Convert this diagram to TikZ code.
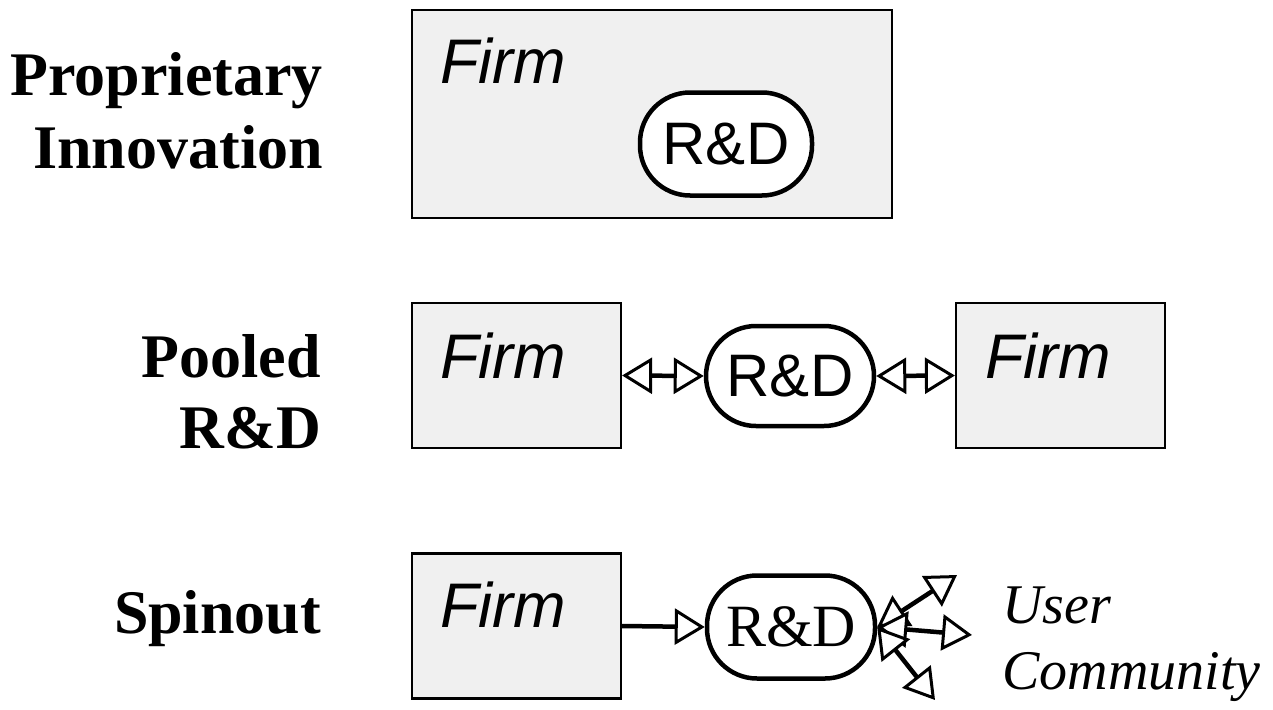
\documentclass[tikz,border=0pt]{standalone}
\usepackage{fontspec}
\setmainfont{Liberation Serif}
\setsansfont{Liberation Sans}
\usetikzlibrary{arrows.meta}
\tikzset{
  firmbox/.style={draw=black, line width=2.2pt, fill=gray!12, inner sep=0pt},
  rdbox/.style={draw=black, line width=4.5pt, fill=white, rounded corners=50pt, inner sep=0pt, minimum width=168pt, minimum height=100pt},
  label/.style={font=\fontsize{62}{71}\selectfont\bfseries, inner sep=0pt, anchor=base east},
  firmtext/.style={font=\sffamily\itshape\fontsize{63}{70}\selectfont, inner sep=0pt, anchor=base west},
  rdsans/.style={font=\sffamily\fontsize{60}{70}\selectfont},
  rdserif/.style={font=\fontsize{60}{70}\selectfont},
  usertext/.style={font=\itshape\fontsize{56}{66}\selectfont, inner sep=0pt, anchor=base west},
  tip/.tip={Triangle[open, length=30pt, width=36pt, fill=white, line width=3pt]},
  link/.style={line width=4.5pt, {tip}-{tip}},
  onelink/.style={line width=4.5pt, -{tip}}
}
\begin{document}
\begin{tikzpicture}[x=1pt,y=-1pt]
\useasboundingbox (0,0) rectangle (1273,709);
% labels
\node[label] (l1a) at (323,95) {Proprietary};
\node[label] (l1b) at (323,168) {Innovation};
\node[label] (l2a) at (321,377) {Pooled};
\node[label] (l2b) at (321,448) {R\&D};
\node[label] (l3) at (321,633) {Spinout};
% row 1
\node[firmbox, minimum width=480pt, minimum height=208pt] (b1) at (652,114) {};
\node[firmtext] (f1) at (440,83) {Firm};
\node[rdbox, rdsans, minimum width=172pt, minimum height=103pt] (r1) at (726,144) {R\&D};
% row 2
\node[firmbox, minimum width=209pt, minimum height=145pt] (b2) at (516.5,375.5) {};
\node[firmtext] (f2) at (440,378) {Firm};
\node[rdbox, rdsans] (r2) at (790,376) {R\&D};
\node[firmbox, minimum width=209pt, minimum height=145pt] (b3) at (1060.5,375.5) {};
\node[firmtext] (f3) at (985,378) {Firm};
\draw[link] (b2.east) -- (r2.west);
\draw[link] (r2.east) -- (b3.west);
% row 3
\node[firmbox, minimum width=209pt, minimum height=145pt] (b4) at (516.5,626) {};
\node[firmtext] (f4) at (440,627) {Firm};
\node[rdbox, rdserif, minimum height=103pt] (r3) at (791,627) {R\&D};
\draw[onelink] (b4.east) -- (r3.west);
\coordinate (u1) at (957,575);
\coordinate (u2) at (972,635);
\coordinate (u3) at (935,700);
\draw[link] (r3.east) -- (u1);
\draw[link] (r3.east) -- (u2);
\draw[link] (r3.east) -- (u3);
\node[usertext] (ut1) at (1002,623) {User};
\node[usertext] (ut2) at (1002,689) {Community};
\end{tikzpicture}
\end{document}
